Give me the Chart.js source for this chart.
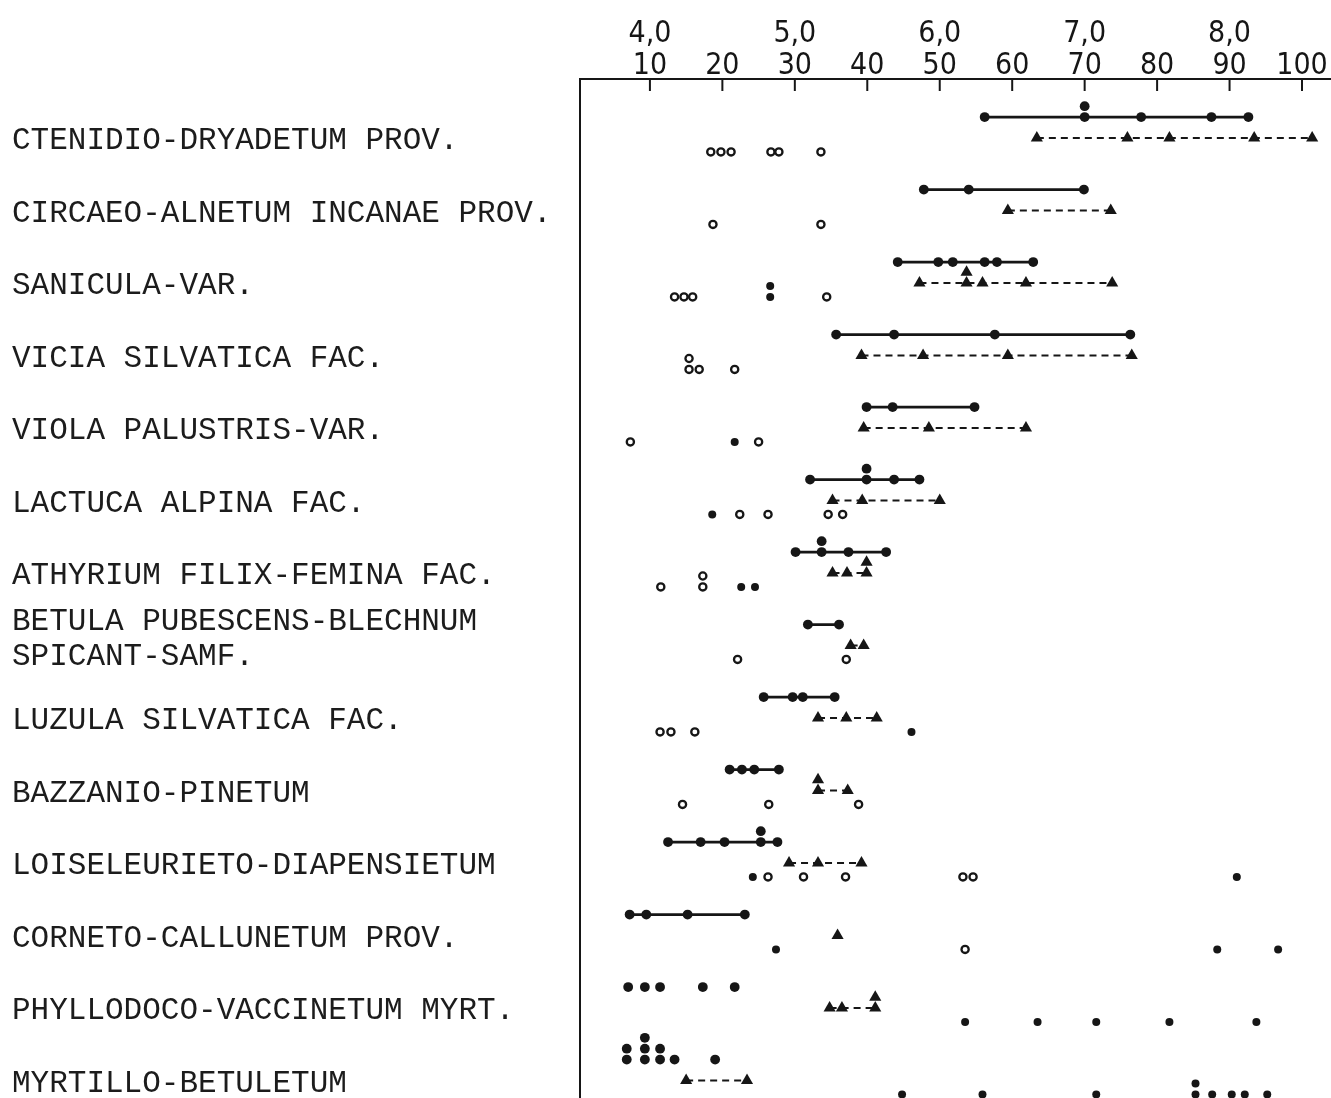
<!DOCTYPE html>
<html>
<head>
<meta charset="utf-8">
<script src="https://cdn.jsdelivr.net/npm/chart.js@4.4.0/dist/chart.umd.min.js"></script>
<style>
html,body{margin:0;padding:0;background:#fff;overflow:hidden;}
#wrap{width:1331px;height:1098px;position:relative;}
</style>
</head>
<body>
<div id="wrap"><canvas id="c"></canvas></div>
<script>
// ---------- data ----------
const categories = [
  'CTENIDIO-DRYADETUM PROV.',
  'CIRCAEO-ALNETUM INCANAE PROV.',
  'SANICULA-VAR.',
  'VICIA SILVATICA FAC.',
  'VIOLA PALUSTRIS-VAR.',
  'LACTUCA ALPINA FAC.',
  'ATHYRIUM FILIX-FEMINA FAC.',
  'BETULA PUBESCENS-BLECHNUM\nSPICANT-SAMF.',
  'LUZULA SILVATICA FAC.',
  'BAZZANIO-PINETUM',
  'LOISELEURIETO-DIAPENSIETUM',
  'CORNETO-CALLUNETUM PROV.',
  'PHYLLODOCO-VACCINETUM MYRT.',
  'MYRTILLO-BETULETUM'
];
const baseTicks = [10, 20, 30, 40, 50, 60, 70, 80, 90, 100];
const phTicks = [4, 5, 6, 7, 8];
const phLabels = ['4,0', '5,0', '6,0', '7,0', '8,0'];

// filled dots on the solid line (repeated values = stacked dots)
const solidDots = [
  [56.2, 70.0, 70.0, 77.8, 87.5, 92.6],
  [47.8, 54.0, 69.9],
  [44.2, 49.8, 51.8, 56.2, 57.9, 62.9],
  [35.7, 43.7, 57.6, 76.3],
  [39.9, 43.5, 54.8],
  [32.1, 39.9, 39.9, 43.7, 47.2],
  [30.1, 33.7, 33.7, 37.4, 42.6],
  [31.8, 36.1],
  [25.7, 29.7, 31.1, 35.5],
  [21.0, 22.7, 24.4, 27.8],
  [12.5, 17.0, 20.3, 25.3, 25.3, 27.6],
  [7.2, 9.5, 15.2, 23.1],
  [7.0, 9.3, 11.4, 17.3, 21.7],
  [6.8, 6.8, 9.3, 9.3, 9.3, 11.4, 11.4, 13.4, 19.0]
];
const hasSolidLine = [true, true, true, true, true, true, true, true, true, true, true, true, false, false];

// triangles on the dashed line
const triangles = [
  [63.4, 75.9, 81.7, 93.4, 101.4],
  [59.4, 73.6],
  [47.2, 53.7, 53.7, 55.9, 61.9, 73.8],
  [39.2, 47.7, 59.4, 76.5],
  [39.5, 48.5, 61.9],
  [35.2, 39.3, 50.0],
  [35.2, 37.2, 39.9, 39.9],
  [37.7, 39.5],
  [33.2, 37.1, 41.3],
  [33.2, 33.2, 37.3],
  [29.2, 33.2, 39.2],
  [35.9],
  [34.8, 36.5, 41.1, 41.1],
  [15.0, 23.4]
];

// small circles below
const openCircles = [
  [18.4, 19.8, 21.2, 26.7, 27.8, 33.6],
  [18.7, 33.6],
  [13.4, 14.7, 15.9, 34.4],
  [15.4, 15.4, 16.8, 21.7],
  [7.3, 25.0],
  [22.4, 26.3, 34.6, 36.6],
  [11.5, 17.3, 17.3],
  [22.1, 37.1],
  [11.4, 12.9, 16.2],
  [14.5, 26.4, 38.8],
  [26.3, 31.2, 37.0, 53.2, 54.6],
  [53.5],
  [],
  []
];
const filledCircles = [
  [],
  [],
  [26.6, 26.6],
  [],
  [21.7],
  [18.6],
  [22.6, 24.5],
  [],
  [46.1],
  [],
  [24.2, 91.0],
  [27.4, 88.3, 96.7],
  [53.5, 63.5, 71.6, 81.7, 93.7],
  [44.8, 55.9, 71.6, 85.3, 85.3, 87.6, 90.3, 92.1, 95.2]
];

// ---------- styling / layout ----------
const INK = '#161616';
const X_MIN = 0.35, X_MAX = 104;
const LANE_SOLID = -0.33, LANE_TRI = -0.04, LANE_CIRC = 0.15, STACK = 0.15;
const Y_MIN = 1 - 62 / 72.5, Y_MAX = Y_MIN + 1019 / 72.5;

function stackPoints(values, row, lane) {
  const seen = {};
  return values.map(v => {
    const k = seen[v] || 0;
    seen[v] = k + 1;
    return { x: v, y: row + lane - k * STACK };
  });
}

const datasets = [];
categories.forEach((_, i) => {
  const row = i + 1;
  const sd = solidDots[i], tr = triangles[i];
  if (hasSolidLine[i] && sd.length > 1) {
    datasets.push({
      data: [{ x: Math.min(...sd), y: row + LANE_SOLID }, { x: Math.max(...sd), y: row + LANE_SOLID }],
      showLine: true, borderColor: INK, borderWidth: 2.7, pointRadius: 0, order: 1
    });
  }
  datasets.push({
    data: stackPoints(sd, row, LANE_SOLID),
    pointStyle: 'circle', pointRadius: 4.9, backgroundColor: INK, borderWidth: 0, order: 0
  });
  if (tr.length > 1) {
    datasets.push({
      data: [{ x: Math.min(...tr), y: row + LANE_TRI }, { x: Math.max(...tr), y: row + LANE_TRI }],
      showLine: true, borderColor: INK, borderWidth: 2, borderDash: [7, 5], pointRadius: 0, order: 1
    });
  }
  datasets.push({
    data: stackPoints(tr, row, LANE_TRI),
    pointStyle: 'triangle', pointRadius: 7, backgroundColor: INK, borderColor: INK, borderWidth: 0, order: 0
  });
  datasets.push({
    data: stackPoints(openCircles[i], row, LANE_CIRC),
    pointStyle: 'circle', pointRadius: 3.6, backgroundColor: '#fff', borderColor: INK, borderWidth: 2.3, order: 0
  });
  datasets.push({
    data: stackPoints(filledCircles[i], row, LANE_CIRC),
    pointStyle: 'circle', pointRadius: 4, backgroundColor: INK, borderWidth: 0, order: 0
  });
});

const innerTicks = {
  id: 'innerTicks',
  afterDraw(chart) {
    const s = chart.scales.x, ctx = chart.ctx;
    ctx.save();
    ctx.strokeStyle = INK;
    ctx.lineWidth = 2;
    s.ticks.forEach(t => {
      const px = s.getPixelForValue(t.value);
      ctx.beginPath();
      ctx.moveTo(px, s.bottom);
      ctx.lineTo(px, s.bottom + 12);
      ctx.stroke();
    });
    ctx.restore();
  }
};

function noPad(s) {
  s.paddingLeft = 0; s.paddingRight = 0; s.paddingTop = 0; s.paddingBottom = 0;
}

const numFont = { family: "'DejaVu Sans Condensed','Liberation Sans Narrow','Noto Sans',sans-serif", size: 30, lineHeight: 1 };

new Chart(document.getElementById('c'), {
  type: 'scatter',
  data: { datasets },
  plugins: [innerTicks],
  options: {
    responsive: true,
    maintainAspectRatio: false,
    animation: false,
    events: [],
    layout: { autoPadding: false, padding: { left: 12, right: 0, top: 0, bottom: 0 } },
    plugins: { legend: { display: false }, tooltip: { enabled: false } },
    scales: {
      x: {
        type: 'linear', position: 'top', min: X_MIN, max: X_MAX, weight: 0,
        grid: { display: false, drawTicks: false },
        border: { display: true, color: INK, width: 2 },
        afterBuildTicks: s => { s.ticks = baseTicks.map(v => ({ value: v })); },
        afterFit: s => { s.height = 33; noPad(s); },
        ticks: {
          autoSkip: false, maxRotation: 0, padding: -2, color: INK, font: numFont,
          callback: (v, idx) => String(baseTicks[idx])
        }
      },
      x2: {
        type: 'linear', position: 'top', min: 3.5 + X_MIN / 20, max: 3.5 + X_MAX / 20, weight: 10,
        grid: { display: false, drawTicks: false },
        border: { display: false },
        afterBuildTicks: s => { s.ticks = phTicks.map(v => ({ value: v })); },
        afterFit: s => { s.height = 46; noPad(s); },
        ticks: {
          autoSkip: false, maxRotation: 0, padding: -3, color: INK, font: numFont,
          callback: (v, idx) => phLabels[idx]
        }
      },
      y: {
        type: 'linear', position: 'left', reverse: true, min: Y_MIN, max: Y_MAX,
        grid: { display: false, drawTicks: false },
        border: { display: true, color: INK, width: 2 },
        afterBuildTicks: s => {
          s.ticks = categories.map((c, i) => ({ value: i + 1 - (c.includes('\n') ? 0.125 : 0) }));
        },
        afterFit: s => { s.width = 568; noPad(s); },
        ticks: {
          autoSkip: false, crossAlign: 'far', color: '#1c1c1c',
          font: { family: "'Liberation Mono','Courier New',monospace", size: 31, lineHeight: 1.13 },
          callback: (v, idx) => categories[idx].split('\n')
        }
      }
    }
  }
});
</script>
</body>
</html>
